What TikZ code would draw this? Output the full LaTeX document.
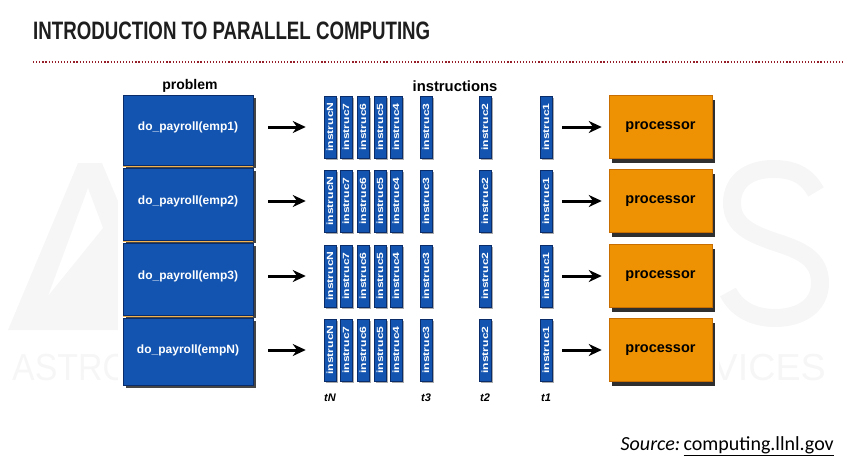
\documentclass[tikz,border=0pt]{standalone}
\usepackage{fontspec}
\usepackage{graphicx}
\setmainfont{Liberation Sans}
\newfontfamily\sourcefont{Carlito}
\usetikzlibrary{arrows.meta,shadows}

\definecolor{jobblue}{RGB}{18,84,176}
\definecolor{jobedge}{RGB}{10,44,105}
\definecolor{procorange}{RGB}{238,146,4}
\definecolor{procedge}{RGB}{200,110,0}
\definecolor{ruledot}{RGB}{150,30,40}
\definecolor{wmgray}{RGB}{246,246,246}
\definecolor{titleink}{RGB}{30,30,30}

\tikzset{
  wm/.style={text=wmgray, inner sep=0pt, anchor=base west},
  jobbox/.style={fill=jobblue, draw=jobedge, line width=0.6pt,
    minimum width=130pt, inner sep=0pt,
    drop shadow={shadow xshift=3pt, shadow yshift=-3pt, fill=black!85, opacity=0.85}},
  jobtext/.style={text=white, inner sep=0pt,
    font=\bfseries\fontsize{12}{12}\selectfont},
  barbox/.style={fill=jobblue, draw=jobedge, line width=0.5pt,
    minimum width=12pt, minimum height=62pt, inner sep=0pt,
    text=white, font=\bfseries\fontsize{9}{9}\selectfont,
    drop shadow={shadow xshift=2pt, shadow yshift=-2pt, fill=black!60, opacity=0.55}},
  procbox/.style={fill=procorange, draw=procedge, line width=0.5pt,
    minimum width=103pt, minimum height=63pt, inner sep=0pt,
    font=\bfseries\fontsize{14.5}{14.5}\selectfont,
    drop shadow={shadow xshift=3pt, shadow yshift=-4pt, fill=black!90, opacity=0.9}},
  heading/.style={inner sep=0pt, font=\bfseries\fontsize{14}{14}\selectfont},
  tlabel/.style={inner sep=0pt, font=\bfseries\itshape\fontsize{11}{11}\selectfont},
  arr/.style={-{Stealth[length=13pt,width=12pt]}, line width=3pt, black},
}

\newcommand{\barlabel}[1]{\rotatebox{90}{\scalebox{1.35}[1]{#1}}}

\begin{document}
\begin{tikzpicture}[x=1pt,y=-1pt]
\useasboundingbox (0,0) rectangle (843,458);

% faint background lettering, hidden behind the diagram area
\fill[wmgray, even odd rule]
  (8,330) -- (78,163) -- (102,163) -- (172,330) -- cycle
  (88,188) -- (103,228) -- (48,296) -- cycle;
\draw[wmgray, line width=18pt]
  (816,192) .. controls (806,174) and (792,169) .. (773,169)
  .. controls (748,169) and (732,182) .. (732,203)
  .. controls (732,226) and (752,234) .. (775,242)
  .. controls (800,250) and (820,258) .. (820,283)
  .. controls (820,306) and (800,318) .. (775,318)
  .. controls (752,318) and (736,308) .. (728,292);
\node[wm, font=\fontsize{37.7}{37.7}\selectfont, xscale=0.9] (wmL) at (12,380) {ASTRO};
\node[wm, font=\fontsize{37.7}{37.7}\selectfont, anchor=base east] (wmR) at (826,380) {VICES};
\fill[white] (118,68) rectangle (719,412);

% title and rule
\node[anchor=south west, inner sep=0pt, text=titleink] (title) at (33,39.5)
  {\resizebox{397pt}{17.6pt}{\bfseries INTRODUCTION TO PARALLEL COMPUTING}};
\draw[ruledot, line width=1.3pt, dash pattern=on 1.2pt off 1.9pt] (33,62) -- (843,62);

% column headings
\node[heading] (hprob) at (190,86) {problem};
\node[heading, font=\bfseries\fontsize{14.8}{14.8}\selectfont] (hinst) at (455,86) {instructions};

% problem partitions
\node[jobbox, minimum height=70pt] (job1) at (188,130) {};
\node[jobbox, minimum height=72pt] (job2) at (188,204) {};
\node[jobbox, minimum height=72pt] (job3) at (188,279) {};
\node[jobbox, minimum height=67pt] (job4) at (188,351.5) {};
\foreach \d in {166.5,241.5,316.5}
  \draw[procorange!70!white, line width=0.8pt] (123,\d) -- (253,\d);

\foreach \r/\y/\e in {1/127/emp1,2/201/emp2,3/276/emp3,4/350/empN}{
  \node[jobtext] (jt\r) at (188,\y) {do\_payroll(\e)};
  % instruction streams
  \foreach \k/\x in {N/330,7/346,6/363,5/380,4/396,3/426,2/485,1/546}{
    \node[barbox] (b\r-\k) at (\x,\y) {\barlabel{instruc\k}};
  }
  \node[procbox] (proc\r) at (660.5,\y) {processor};
  \coordinate (s\r) at (268,\y);
  \draw[arr] (s\r) -- ([xshift=-18pt]b\r-N.west);
  \draw[arr] ([xshift=10pt]b\r-1.east) -- ([xshift=-7pt]proc\r.west);
}

% time steps
\node[tlabel] (tN) at (330,398) {tN};
\node[tlabel] (t3) at (426,398) {t3};
\node[tlabel] (t2) at (485,398) {t2};
\node[tlabel] (t1) at (546,398) {t1};

% credit line
\node[anchor=base east, inner sep=0pt] (src) at (834,450)
  {\sourcefont\fontsize{20}{20}\selectfont\textit{Source:}\,\underline{computing.llnl.gov}};
\end{tikzpicture}
\end{document}
